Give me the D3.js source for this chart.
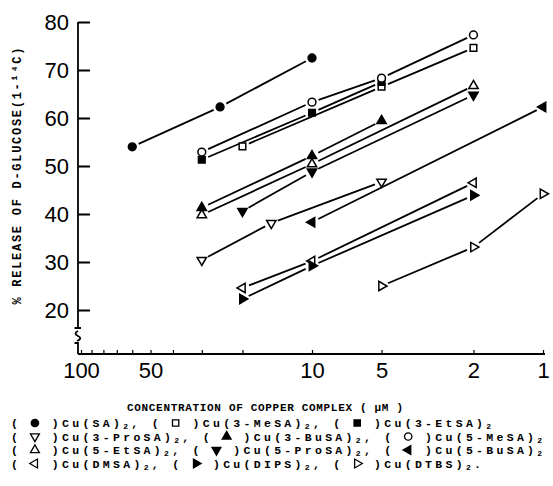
<!DOCTYPE html>
<html>
<head>
<script src="https://d3js.org/d3.v7.min.js"></script>
<title>Copper complex release</title>
<style>
  body { margin: 0; background: #fff; }
  svg { display: block; }
</style>
</head>
<body>
<script>
var width = 553, height = 486;

// [concentration (uM), % release]
var cuSA     = [[60, 54.0], [25, 62.3], [10, 72.5]];
var cu3MeSA  = [[20, 54.1], [5, 66.5], [2, 74.6]];
var cu3EtSA  = [[30, 51.3], [10, 61.1], [5, 67.5]];
var cu3ProSA = [[30, 30.4], [15, 38.1], [5, 46.7]];
var cu3BuSA  = [[30, 41.3], [10, 52.1], [5, 59.4]];
var cu5MeSA  = [[30, 52.9], [10, 63.3], [5, 68.3], [2, 77.3]];
var cu5EtSA  = [[30, 39.8], [10, 50.4], [2, 66.7]];
var cu5ProSA = [[20, 40.6], [10, 48.8], [2, 64.8]];
var cu5BuSA  = [[10, 38.3], [1, 62.3]];
var cuDMSA   = [[20, 24.6], [10, 30.2], [2, 46.5]];
var cuDIPS   = [[20, 22.3], [10, 29.2], [2, 43.9]];
var cuDTBS   = [[5, 25.0], [2, 33.1], [1, 44.2]];

var seriesNames = ["Cu(SA)", "Cu(3-MeSA)", "Cu(3-EtSA)", "Cu(3-ProSA)", "Cu(3-BuSA)", "Cu(5-MeSA)",
                   "Cu(5-EtSA)", "Cu(5-ProSA)", "Cu(5-BuSA)", "Cu(DMSA)", "Cu(DIPS)", "Cu(DTBS)"];
var seriesData = [cuSA, cu3MeSA, cu3EtSA, cu3ProSA, cu3BuSA, cu5MeSA,
                  cu5EtSA, cu5ProSA, cu5BuSA, cuDMSA, cuDIPS, cuDTBS];

var xTicks = [100, 90, 80, 70, 60, 50, 40, 30, 20, 10, 5, 2, 1];
var xLabels = [100, 50, 10, 5, 2, 1];
var yTicks = [20, 30, 40, 50, 60, 70, 80];
var legendRows = [[0, 1, 2], [3, 4, 5], [6, 7, 8], [9, 10, 11]];

// marker look per series (same order as seriesNames)
var markers = [
  { type: d3.symbolCircle,   fill: true,  rot: 0 },
  { type: d3.symbolSquare,   fill: false, rot: 0 },
  { type: d3.symbolSquare,   fill: true,  rot: 0 },
  { type: d3.symbolTriangle, fill: false, rot: 180 },
  { type: d3.symbolTriangle, fill: true,  rot: 0 },
  { type: d3.symbolCircle,   fill: false, rot: 0 },
  { type: d3.symbolTriangle, fill: false, rot: 0 },
  { type: d3.symbolTriangle, fill: true,  rot: 180 },
  { type: d3.symbolTriangle, fill: true,  rot: -90 },
  { type: d3.symbolTriangle, fill: false, rot: -90 },
  { type: d3.symbolTriangle, fill: true,  rot: 90 },
  { type: d3.symbolTriangle, fill: false, rot: 90 }
];
function symSize(m) {
  if (m.type === d3.symbolCircle) return 48;
  if (m.type === d3.symbolSquare) return 44;
  return 38;
}

var svg = d3.select("body").append("svg")
    .attr("width", width)
    .attr("height", height);

var x = d3.scaleLog().domain([100, 1]).range([81, 543]);
var y = d3.scaleLinear().domain([20, 80]).range([310, 22]);
var axisX0 = 78, axisY0 = 354;

// y axis
var yAxis = d3.axisLeft(y).tickValues(yTicks).tickSize(-12).tickSizeOuter(0).tickPadding(9);
var gy = svg.append("g").attr("transform", "translate(" + axisX0 + ",0)").call(yAxis);
gy.select(".domain").remove();
gy.selectAll("line").attr("stroke", "#000").attr("stroke-width", 2);
gy.selectAll("text")
    .attr("font-family", "Liberation Sans, Arial, sans-serif")
    .attr("font-size", 22)
    .attr("fill", "#000");

// y axis line with the break near the bottom
svg.append("path")
    .attr("d", "M" + axisX0 + "," + y(80) + " V328 M74.5,328 H81" +
               " M" + axisX0 + ",331 q-5,2.5 0,5 q5,2.5 -1,5" +
               " M74.5,343 H" + axisX0 + " V" + axisY0)
    .attr("fill", "none")
    .attr("stroke", "#000")
    .attr("stroke-width", 1.8);

// x axis (log, reversed)
var xAxis = d3.axisBottom(x).tickValues(xTicks)
    .tickFormat(function(d) { return xLabels.indexOf(d) >= 0 ? d : ""; })
    .tickSize(-4).tickSizeOuter(0).tickPadding(8);
var gx = svg.append("g").attr("transform", "translate(0," + axisY0 + ")").call(xAxis);
gx.select(".domain").remove();
gx.selectAll("line").attr("stroke", "#000").attr("stroke-width", 1.2);
gx.selectAll("text")
    .attr("font-family", "Liberation Sans, Arial, sans-serif")
    .attr("font-size", 22)
    .attr("fill", "#000");
gx.append("line")
    .attr("x1", axisX0).attr("x2", 545)
    .attr("y1", 0).attr("y2", 0)
    .attr("stroke", "#000").attr("stroke-width", 2);

// lines between points, with a small gap round each marker
var gap = 7;
seriesData.forEach(function(pts) {
  for (var i = 0; i < pts.length - 1; i++) {
    var x1 = x(pts[i][0]), y1 = y(pts[i][1]);
    var x2 = x(pts[i + 1][0]), y2 = y(pts[i + 1][1]);
    var len = Math.sqrt((x2 - x1) * (x2 - x1) + (y2 - y1) * (y2 - y1));
    var ux = (x2 - x1) / len, uy = (y2 - y1) / len;
    svg.append("line")
        .attr("x1", x1 + ux * gap).attr("y1", y1 + uy * gap)
        .attr("x2", x2 - ux * gap).attr("y2", y2 - uy * gap)
        .attr("stroke", "#000")
        .attr("stroke-width", 1.8);
  }
});

// markers
seriesData.forEach(function(pts, si) {
  var m = markers[si];
  svg.selectAll(null)
      .data(pts)
      .enter()
      .append("path")
      .attr("d", d3.symbol().type(m.type).size(symSize(m)))
      .attr("transform", function(d) {
        return "translate(" + x(d[0]) + "," + y(d[1]) + ") rotate(" + m.rot + ")";
      })
      .attr("fill", m.fill ? "#000" : "#fff")
      .attr("stroke", "#000")
      .attr("stroke-width", 1.5);
});

// axis titles
svg.append("text")
    .attr("x", 265).attr("y", 411)
    .attr("text-anchor", "middle")
    .attr("font-family", "Liberation Mono, Courier New, monospace")
    .attr("font-weight", "bold")
    .attr("font-size", 11)
    .attr("textLength", 276)
    .attr("lengthAdjust", "spacing")
    .text("CONCENTRATION OF COPPER COMPLEX ( \u03bcM )");

svg.append("text")
    .attr("transform", "translate(21,176) rotate(-90)")
    .attr("text-anchor", "middle")
    .attr("font-family", "Liberation Mono, Courier New, monospace")
    .attr("font-weight", "bold")
    .attr("font-size", 12)
    .attr("textLength", 257)
    .attr("lengthAdjust", "spacing")
    .text("% RELEASE OF D-GLUCOSE(1-\u00b9\u2074C)");

// legend, typewriter style
var legendY = [427, 440.5, 454, 467.5];
legendRows.forEach(function(row, r) {
  var t = svg.append("text")
      .attr("x", 11).attr("y", legendY[r])
      .attr("font-family", "Liberation Mono, Courier New, monospace")
      .attr("font-weight", "bold")
      .attr("font-size", 11.5)
      .attr("letter-spacing", 3.3)
      .style("white-space", "pre");
  row.forEach(function(si, k) {
    t.append("tspan").text("( ");
    t.append("tspan").attr("class", "ph").datum(si).text(" ");
    t.append("tspan").text(" )" + seriesNames[si]);
    t.append("tspan").attr("font-size", 8).attr("dy", 2).text("2");
    var tail = k < row.length - 1 ? ", " : (r === legendRows.length - 1 ? "." : "");
    if (tail) t.append("tspan").attr("dy", -2).text(tail);
  });
});

svg.selectAll("tspan.ph").each(function(si) {
  var p = this.getStartPositionOfChar(0);
  var m = markers[si];
  svg.append("path")
      .attr("d", d3.symbol().type(m.type).size(symSize(m) * 0.9))
      .attr("transform", "translate(" + (p.x + 3.5) + "," + (p.y - 4) + ") rotate(" + m.rot + ")")
      .attr("fill", m.fill ? "#000" : "#fff")
      .attr("stroke", "#000")
      .attr("stroke-width", 1.3);
});
</script>
</body>
</html>
